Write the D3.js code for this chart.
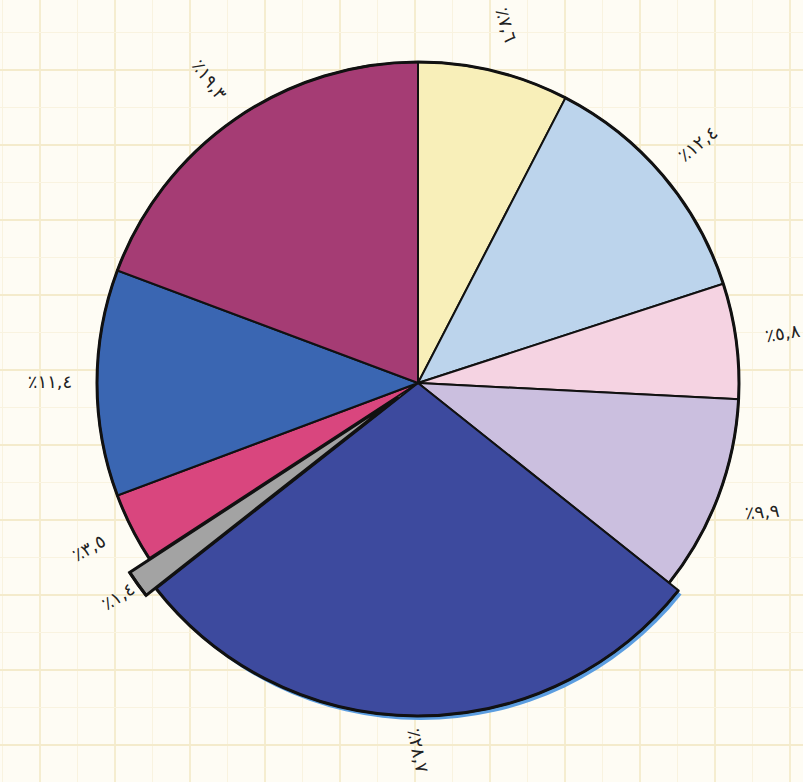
<!DOCTYPE html>
<html lang="ar">
<head>
<meta charset="utf-8">
<script src="https://cdn.jsdelivr.net/npm/d3@7"></script>
<style>
  html, body { margin: 0; padding: 0; background: #fefcf4; }
  svg { display: block; }
</style>
</head>
<body>
<svg id="chart" width="803" height="782"></svg>
<script>
// ---- data ----
const values = [7.6, 12.4, 5.8, 9.9, 28.7, 1.4, 3.5, 11.4, 19.3];
const labels = ["٪٧,٦", "٪١٢,٤", "٪٥,٨", "٪٩,٩", "٪٢٨,٧", "٪١,٤", "٪٣,٥", "٪١١,٤", "٪١٩,٣"];
const colors = ["#f8efb9", "#bcd4ec", "#f5d3e2", "#cbbfdf", "#3d4a9e", "#a3a3a3", "#d9467e", "#3a66b2", "#a53c74"];
const explodedIndex = 5;
// ---- style ----
const labelRotation = [73, -39, -10, -5, 78, -33, -30, 0, 53];

const W = 803, H = 782;
const cx = 418, cy = 383, R = 321;
const svg = d3.select("#chart");

// grid paper background
const grid = svg.append("g");
const gx = d3.range(-35, W + 40, 37.5);
const gy = d3.range(-5, H + 40, 37.5);
grid.selectAll("line.v").data(gx).join("line")
  .attr("x1", d => d).attr("x2", d => d).attr("y1", 0).attr("y2", H)
  .attr("stroke", (d, i) => i % 2 ? "#f9f3e0" : "#f4ebcc").attr("stroke-width", (d, i) => i % 2 ? 1 : 1.8);
grid.selectAll("line.h").data(gy).join("line")
  .attr("y1", d => d).attr("y2", d => d).attr("x1", 0).attr("x2", W)
  .attr("stroke", (d, i) => i % 2 ? "#f9f3e0" : "#f4ebcc").attr("stroke-width", (d, i) => i % 2 ? 1 : 1.8);

const pie = d3.pie().sort(null).value(d => d).startAngle(0).endAngle(2 * Math.PI);
const arcs = pie(values);
const arc = d3.arc().innerRadius(0).outerRadius(R);
const navyArc = d3.arc().innerRadius(0).outerRadius(R + 12);
const rimArc = d3.arc().innerRadius(R).outerRadius(R);
const navyRim = d3.arc().innerRadius(R + 12).outerRadius(R + 12);

const g = svg.append("g").attr("transform", `translate(${cx},${cy})`);

// soft blue shadow under the large navy slice
g.append("path")
  .attr("d", navyArc(arcs[4]))
  .attr("transform", "translate(3,4)")
  .attr("fill", "#5b9de0");

const shift = (d, i) => {
  if (i !== explodedIndex) return null;
  const a = (d.startAngle + d.endAngle) / 2;
  return `translate(${Math.sin(a) * 24},${-Math.cos(a) * 24})`;
};

g.selectAll("path.slice").data(arcs).join("path")
  .attr("class", "slice")
  .attr("d", (d, i) => i === 4 ? navyArc(d) : arc(d))
  .attr("transform", shift)
  .attr("fill", (d, i) => colors[i])
  .attr("stroke", "#111")
  .attr("stroke-width", (d, i) => i === explodedIndex ? 3 : 2)
  .attr("stroke-linejoin", "miter");

// heavier outer rim
g.selectAll("path.rim").data(arcs).join("path")
  .attr("class", "rim")
  .attr("d", (d, i) => i === 4 ? navyRim(d) : rimArc(d))
  .attr("transform", shift)
  .attr("fill", "none")
  .attr("stroke", "#111")
  .attr("stroke-width", 3);

// labels
const labelArc = d3.arc().innerRadius(368).outerRadius(368);
svg.append("g").attr("transform", `translate(${cx},${cy})`)
  .selectAll("text").data(arcs).join("text")
  .attr("transform", (d, i) => {
    const [x, y] = labelArc.centroid(d);
    return `translate(${x},${y}) rotate(${labelRotation[i]})`;
  })
  .attr("text-anchor", "middle")
  .attr("dominant-baseline", "middle")
  .attr("direction", "ltr")
  .attr("font-family", "DejaVu Sans, Noto Sans, sans-serif")
  .attr("font-size", 18)
  .attr("fill", "#222")
  .text((d, i) => labels[i]);
</script>
</body>
</html>
